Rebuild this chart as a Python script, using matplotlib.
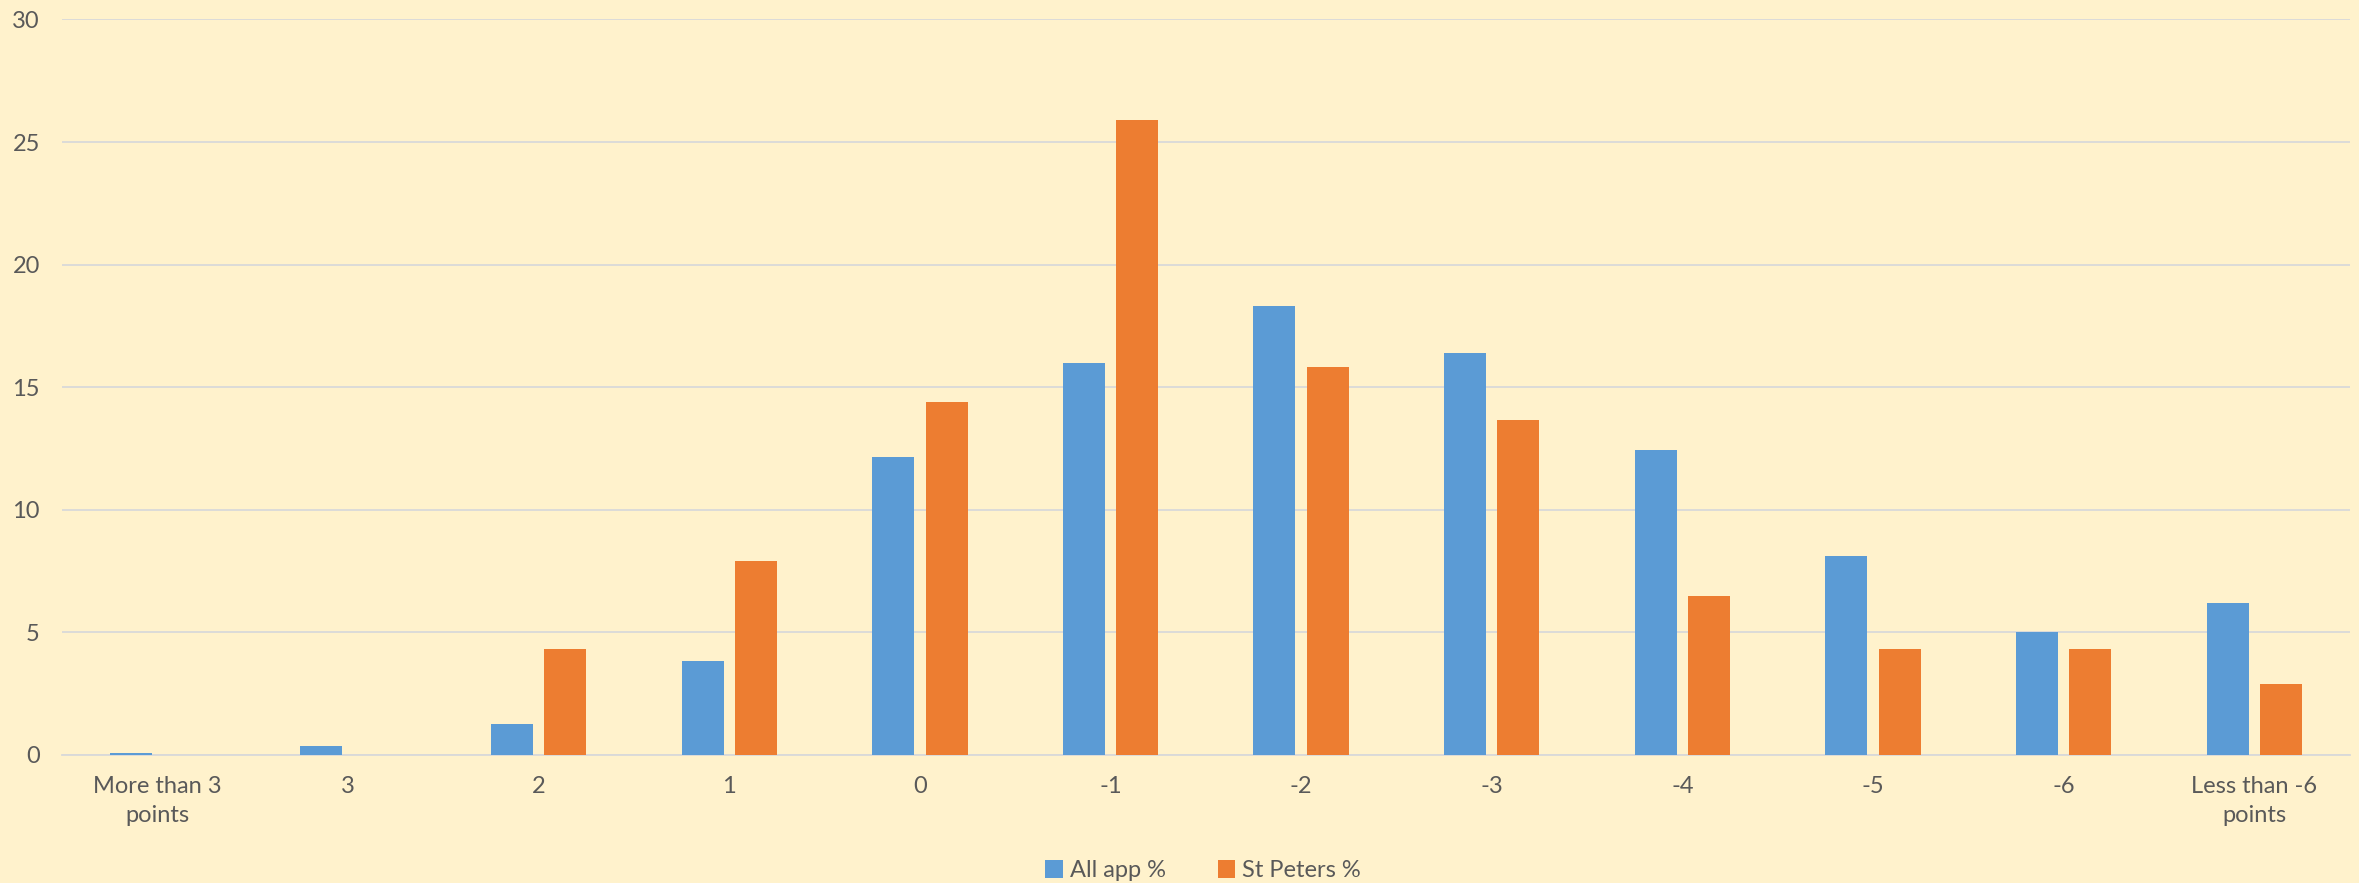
import numpy as np
import matplotlib.pyplot as plt

categories = ['More than 3\npoints', '3', '2', '1', '0', '-1', '-2', '-3',
              '-4', '-5', '-6', 'Less than -6\npoints']
all_app = [0.1, 0.35, 1.25, 3.85, 12.15, 16.0, 18.3, 16.4, 12.45, 8.1, 5.03, 6.2]
st_peters = [0.0, 0.0, 4.32, 7.91, 14.39, 25.9, 15.83, 13.67, 6.47, 4.32, 4.32, 2.88]
yticks = [0, 5, 10, 15, 20, 25, 30]

bg = '#FFF2CC'
text_col = '#595959'
plt.rcParams['font.family'] = ['Lato', 'DejaVu Sans']

fig = plt.figure(figsize=(23.59, 8.83), dpi=100, facecolor=bg)
ax = fig.add_axes([0.0263, 0.145, 0.9697, 0.833], facecolor=bg)

x = np.arange(len(categories))
w = 0.22
off = 0.14
ax.bar(x - off, all_app, w, color='#5B9BD5', label='All app %', zorder=3)
ax.bar(x + off, st_peters, w, color='#ED7D31', label='St Peters %', zorder=3)

ax.set_xlim(-0.5, len(categories) - 0.5)
ax.set_ylim(0, 30)
ax.set_yticks(yticks)
ax.set_xticks(x)
ax.set_xticklabels(categories, linespacing=1.5)
ax.yaxis.grid(True, color='#D9D9D9', linewidth=1.3, zorder=0)
ax.set_axisbelow(True)
for s in ['top', 'right', 'left']:
    ax.spines[s].set_visible(False)
ax.spines['bottom'].set_color('#D9D9D9')
ax.spines['bottom'].set_linewidth(1.3)
ax.tick_params(axis='both', length=0, labelsize=17, labelcolor=text_col)
ax.tick_params(axis='y', pad=16)
ax.tick_params(axis='x', pad=15)

fig.legend(loc='lower center', bbox_to_anchor=(0.51, -0.022), ncol=2, frameon=False,
           fontsize=17, labelcolor=text_col, handlelength=0.75, handleheight=0.75,
           handletextpad=0.3, columnspacing=2.2)

fig.savefig('out.png', dpi=100, facecolor=bg)
